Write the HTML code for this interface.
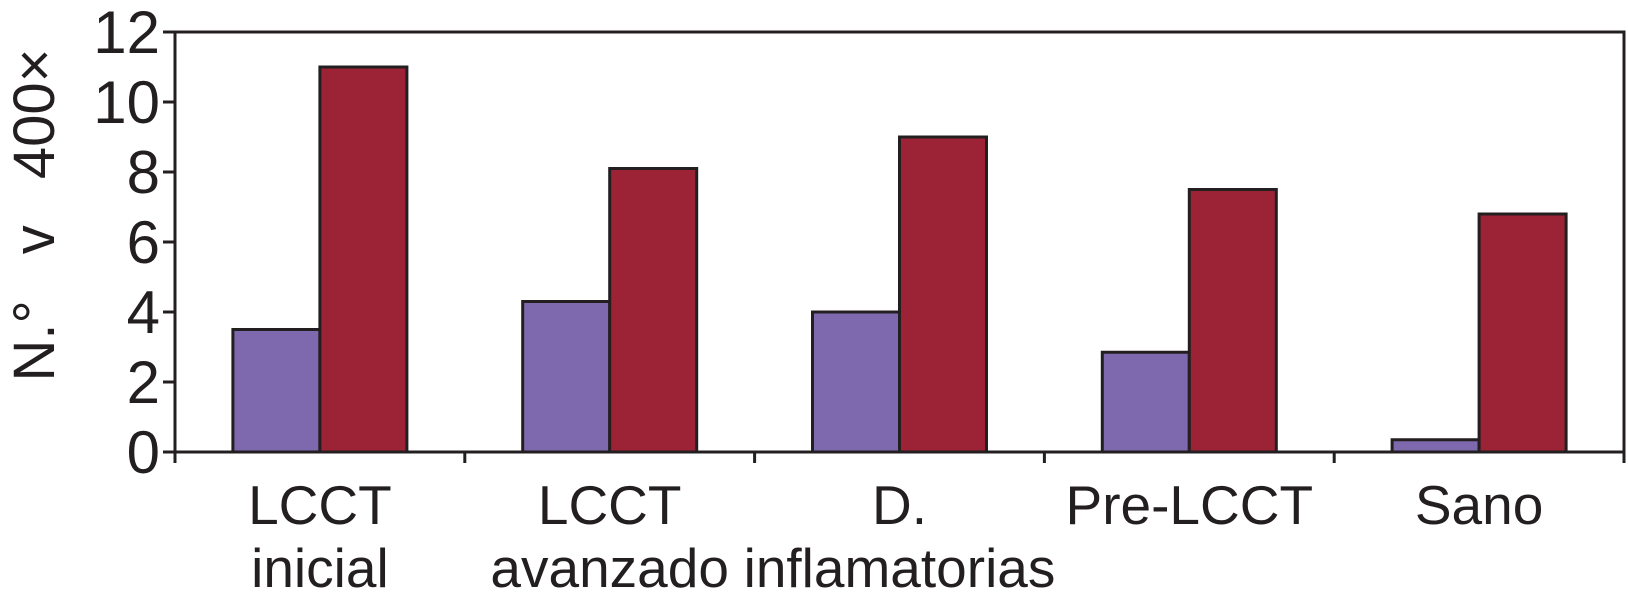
<!DOCTYPE html>
<html><head><meta charset="utf-8"><style>
body{margin:0;background:#fff}
svg{display:block;font-family:"Liberation Sans",Arial,sans-serif}
</style></head><body>
<svg id="chart" width="1628" height="607" viewBox="0 0 1628 607" xmlns="http://www.w3.org/2000/svg"></svg>
<script>
const categories=[["LCCT","inicial"],["LCCT","avanzado"],["D.","inflamatorias"],["Pre-LCCT",""],["Sano",""]];
const seriesA=[3.5,4.3,4.0,2.85,0.35];
const seriesB=[11.0,8.1,9.0,7.5,6.8];
const yTicks=[0,2,4,6,8,10,12];
const NS="http://www.w3.org/2000/svg";
const svg=document.getElementById('chart');
const X0=175,X1=1624,Y0=452,Y1=32,YMAX=12;
const band=(X1-X0)/categories.length, bw=87;
const y=v=>Y0-(v/YMAX)*(Y0-Y1);
function mk(tag,attrs,parent){const e=document.createElementNS(NS,tag);for(const k in attrs)e.setAttribute(k,attrs[k]);(parent||svg).appendChild(e);return e;}
categories.forEach((c,i)=>{
  const cx=X0+band*(i+0.5);
  const a=mk('rect',{x:cx-bw,y:y(seriesA[i]),width:bw,height:Y0-y(seriesA[i]),fill:'#7e69ae',stroke:'#231f20','stroke-width':3});
  
  
  const b=mk('rect',{x:cx,y:y(seriesB[i]),width:bw,height:Y0-y(seriesB[i]),fill:'#9b2335',stroke:'#231f20','stroke-width':3});
  
  
  c.forEach((line,j)=>{if(!line)return;
    const t=mk('text',{x:cx,y:524+j*63,'text-anchor':'middle','font-size':55,fill:'#231f20'});
    t.textContent=line;
    
    
  });
});
const frame=mk('path',{d:`M${X0},${Y0}V${Y1}H${X1}V${Y0}H${X0}`,fill:'none',stroke:'#231f20','stroke-width':3});


for(let i=0;i<=categories.length;i++){
  const tk=mk('line',{x1:X0+band*i,x2:X0+band*i,y1:Y0,y2:Y0+11,stroke:'#231f20','stroke-width':3});
  
  
}
yTicks.forEach(v=>{
  const tk=mk('line',{x1:X0-12,x2:X0,y1:y(v),y2:y(v),stroke:'#231f20','stroke-width':3});
  
  
  const t=mk('text',{x:160,y:y(v)+21,'text-anchor':'end','font-size':60,fill:'#231f20'});
  t.textContent=v;
  
  
});
const yt=mk('text',{x:0,y:0,transform:'translate(54,215) rotate(-90)','text-anchor':'middle','font-size':58,fill:'#231f20','word-spacing':30});
yt.textContent='N.\u00b0 v 400\u00d7';


</script>
</body></html>
